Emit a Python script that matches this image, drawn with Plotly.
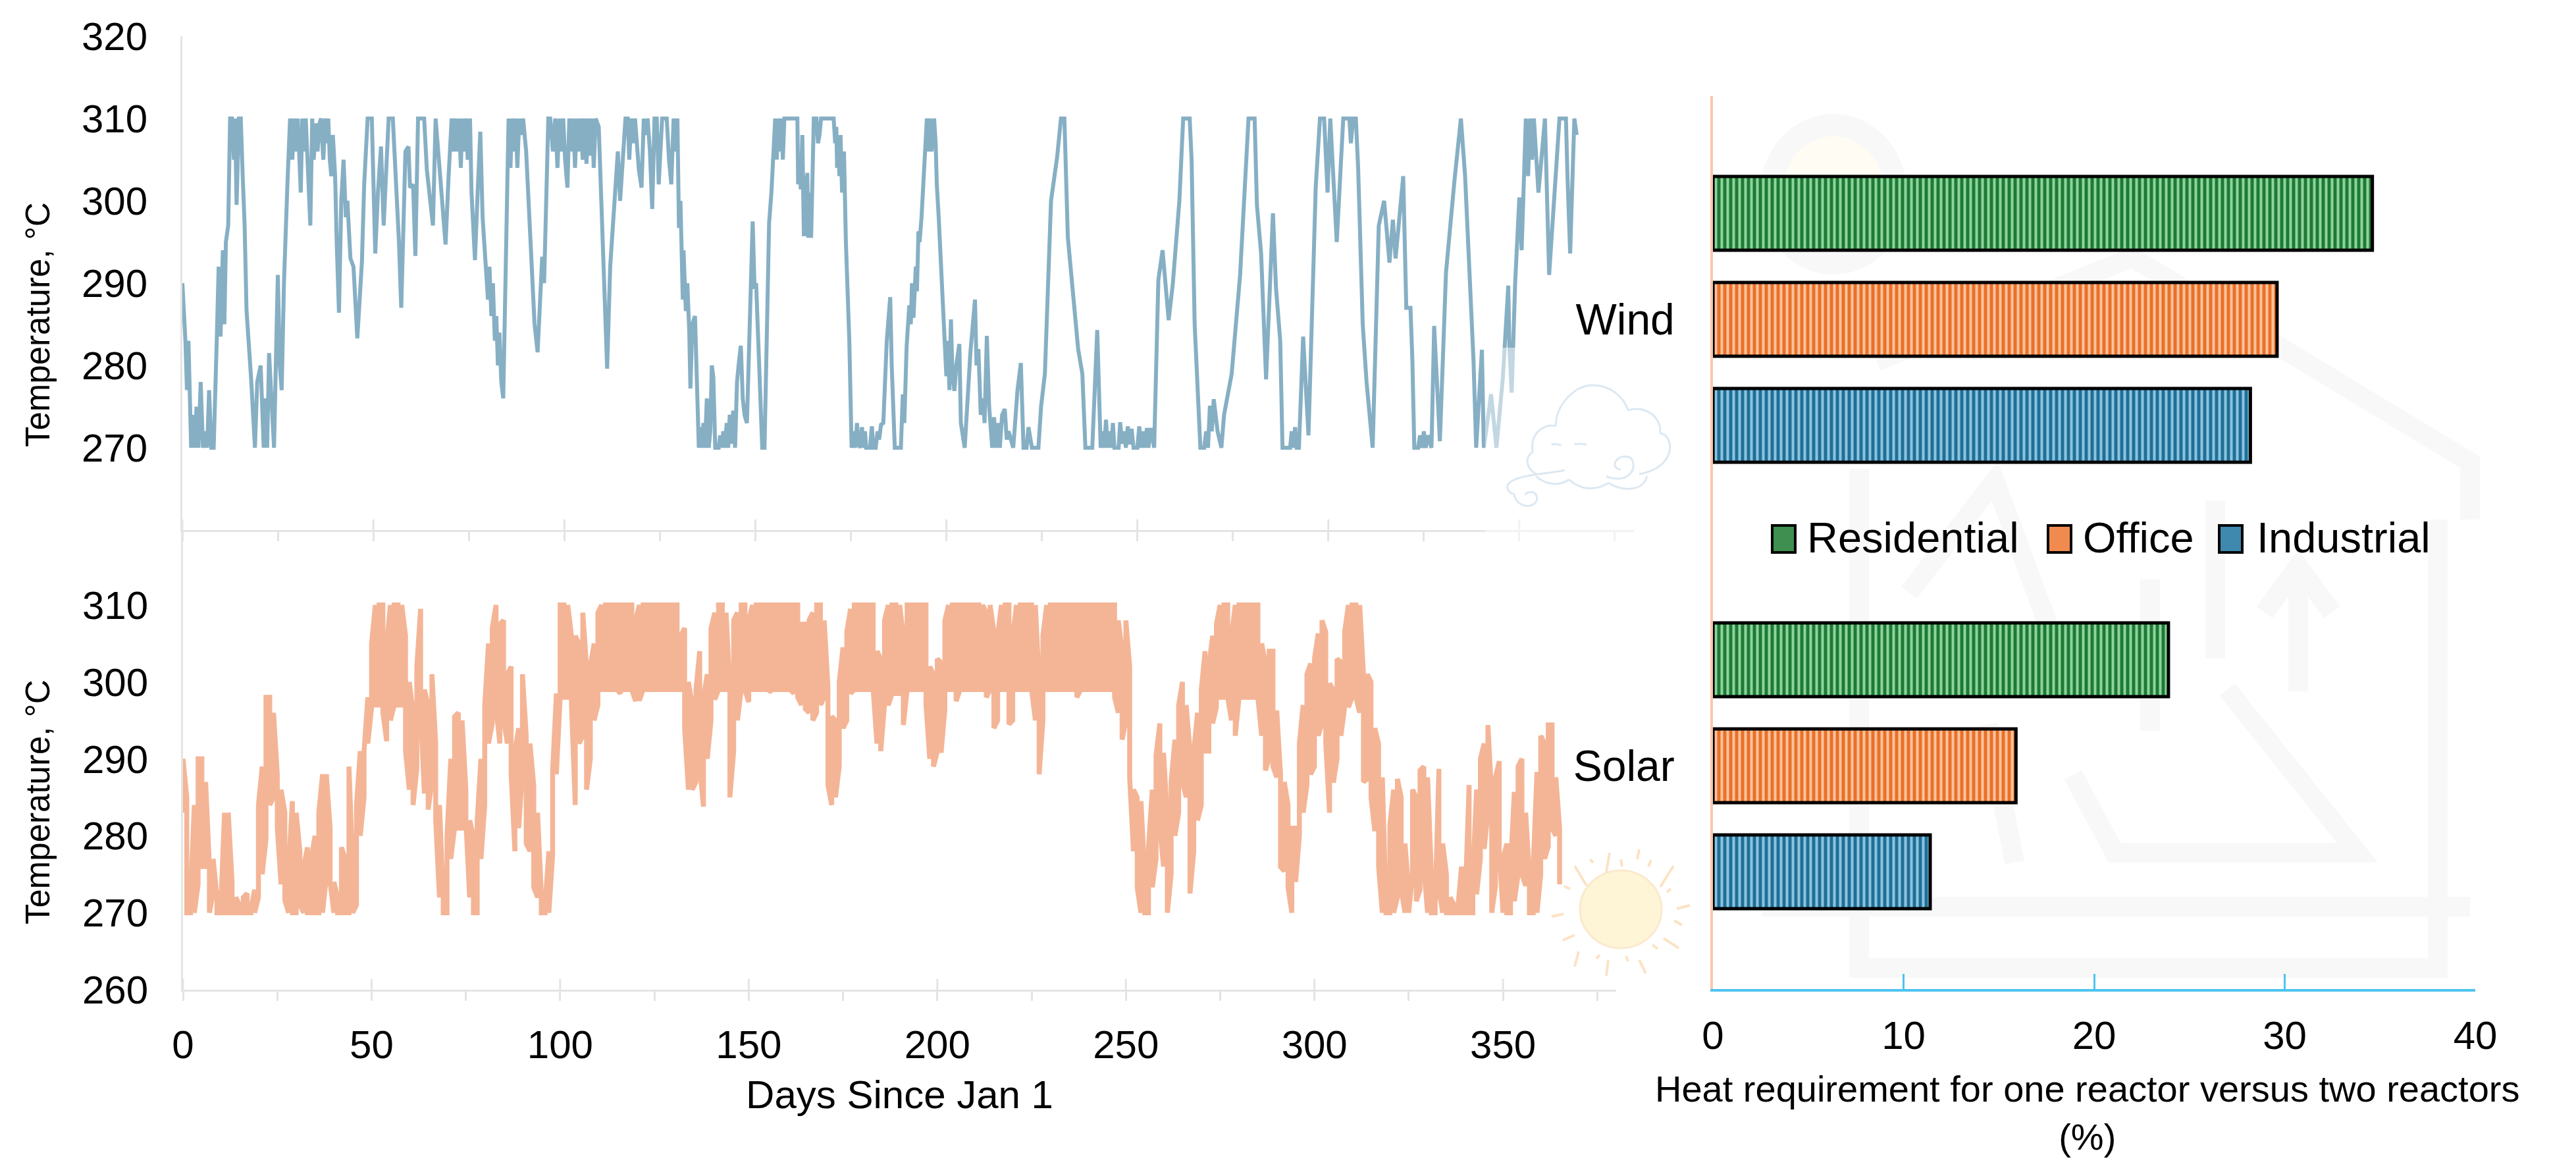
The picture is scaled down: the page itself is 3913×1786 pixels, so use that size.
import plotly.graph_objects as go

W = 3913
H = 1786

# wind temperature trace (turning points)
wind_days = [
    0, 0.8, 1.2, 1.6, 2.3, 3, 3.3, 3.7, 4.2, 4.8, 5.4, 6,
    6.5, 7, 7.6, 8.2, 9, 9.5, 10, 10.6, 11, 11.4, 12, 12.5,
    13, 13.5, 13.8, 14.2, 14.8, 15.3, 15.8, 16.3, 16.8, 17.5, 18, 19,
    19.6, 20.5, 21.3, 21.7, 22.2, 22.7, 23.4, 24, 24.6, 25, 25.5, 26,
    26.6, 27, 27.5, 28.2, 28.8, 29.2, 29.7, 30.2, 30.6, 31, 31.4, 31.9,
    32.3, 32.8, 33.5, 34, 34.4, 34.9, 35.4, 35.9, 36.3, 36.9, 37.4, 37.8,
    38.2, 38.6, 39, 39.4, 40, 40.4, 41, 41.6, 42.2, 42.8, 43.2, 44,
    44.8, 45.8, 46.3, 47, 47.6, 48.5, 49.6, 50.5, 51.2, 52, 52.7, 53.3,
    54, 55.1, 56, 56.7, 57.3, 57.9, 58.4, 59.2, 59.6, 60.4, 61, 61.7,
    63.3, 64, 65, 65.6, 66.3, 67, 67.8, 68.9, 69.7, 70.5, 71, 71.5,
    72, 72.4, 72.9, 73.3, 73.7, 74.2, 74.7, 75.3, 75.7, 76.6, 77.3, 78,
    78.6, 79.4, 80, 80.4, 80.9, 81.3, 81.8, 82.2, 82.6, 83, 83.5, 84,
    84.6, 85.4, 85.9, 86.3, 86.8, 87.2, 87.7, 88.2, 88.7, 89.2, 90, 90.6,
    91.4, 92.2, 93, 93.6, 94.2, 94.7, 95.2, 95.8, 96.3, 97, 97.6, 98.2,
    98.7, 99.2, 99.7, 100.2, 100.8, 101.3, 101.8, 102.3, 102.8, 103.3, 103.8, 104.3,
    104.8, 105.3, 105.8, 106.2, 106.7, 107.2, 107.7, 108.2, 109, 109.6, 110.4, 111.2,
    112, 113, 114, 114.6, 115.3, 116, 116.6, 117, 117.5, 118, 118.5, 119.5,
    120.2, 120.8, 121.3, 121.8, 122.4, 123, 123.6, 124.2, 124.7, 125.6, 126.2, 126.8,
    127.4, 128, 128.6, 129, 129.6, 130, 130.4, 130.6, 131, 131.2, 131.8, 132.2,
    132.7, 133, 133.5, 134.2, 134.5, 135.2, 135.7, 136, 136.4, 136.8, 137.3, 137.8,
    138.2, 138.6, 139, 139.5, 140.4, 140.8, 141.2, 141.6, 142, 142.5, 142.9, 143.3,
    143.7, 144.2, 144.7, 145.2, 145.6, 146.2, 146.7, 147.2, 147.8, 148.4, 149.3, 149.8,
    150.2, 151, 151.8, 152.4, 153, 153.6, 154.2, 155.2, 155.6, 156, 156.4, 156.8,
    157.2, 157.6, 158.5, 160, 161, 161.2, 161.5, 161.9, 162.3, 162.7, 163, 163.3,
    163.6, 163.9, 164.2, 164.6, 165, 165.3, 166, 166.4, 166.8, 167.2, 169, 170.5,
    170.9, 171.2, 171.4, 171.7, 172, 172.3, 172.7, 173.2, 173.7, 174.6, 175.2, 175.8,
    176.2, 176.6, 177, 177.5, 177.9, 178.3, 178.7, 179, 180, 180.5, 180.9, 181.5,
    182, 182.4, 182.9, 183.5, 184.4, 185.3, 185.7, 186.5, 188.1, 188.6, 189, 189.6,
    190.3, 190.7, 191, 191.4, 192, 192.3, 192.7, 193, 193.5, 194.2, 194.9, 195.3,
    195.7, 196.1, 196.8, 197.2, 197.5, 198, 198.4, 199, 199.4, 200, 200.4, 200.8,
    201.2, 201.6, 202.1, 202.6, 203.4, 203.8, 204.8, 205.4, 206.3, 207.5, 207.9, 208.4,
    209, 209.6, 210, 210.6, 211.2, 212, 212.5, 212.9, 213.5, 214, 214.6, 215.3,
    215.8, 216.3, 217.5, 218, 218.6, 219.5, 220.2, 221, 221.5, 222.4, 224.1, 224.8,
    225.8, 227.4, 229, 230, 230.9, 231.8, 233.5, 234.5, 235.6, 236.4, 238.2, 239.5,
    240.4, 241, 241.3, 241.8, 242.2, 242.7, 243.2, 243.6, 244, 245.1, 245.5, 246,
    246.5, 247, 247.5, 248, 248.5, 249, 250, 250.5, 251, 251.5, 252, 252.5,
    252.9, 253.5, 254.4, 255.5, 256.6, 258.2, 259.3, 259.9, 261, 262, 263.7, 264.2,
    265, 266.5, 267.5, 268, 268.5, 269, 269.5, 270, 271, 272, 272.7, 274.7,
    276.9, 279.1, 280.7, 281.3, 282.4, 283.7, 284.6, 285.5, 286.3, 287.4, 288, 290,
    290.4, 290.8, 291.3, 291.7, 292.3, 293.4, 294.8, 296.7, 297.8, 298.9, 299.8, 300.5,
    302.2, 303.9, 305.5, 305.9, 306.5, 307.2, 307.8, 309, 310, 311.6, 313.2, 314.6,
    316, 316.9, 317.6, 318.7, 319.6, 320.4, 321.5, 322, 322.5, 323.5, 324, 324.5,
    325, 325.5, 326, 327, 327.7, 329.2, 330.8, 333, 334.7, 335.8, 337.4, 338,
    338.7, 340.2, 340.7, 342.6, 344, 345.7, 347.1, 347.4, 348, 348.9, 350, 350.6,
    351.7, 352.3, 352.8, 353.3, 353.8, 355, 356.7, 357.8, 360.5, 362.2, 362.6, 363.3,
    364.4, 365,
]
wind_temp = [
    290, 283, 277, 283, 270, 274, 270, 275, 270, 278, 270, 272,
    270, 277, 270, 270, 283, 292, 283.5, 294, 285, 295, 297, 310,
    310, 305, 310, 299.5, 310, 310, 303, 297, 286.7, 282.4, 278.4, 270,
    278, 280, 270, 276, 270, 281.5, 275, 270, 283, 291, 280, 277,
    290, 297, 302, 310, 305, 310, 306, 310, 305, 301, 310, 306,
    310, 305, 297, 310, 305, 309.4, 306, 309.4, 310, 305, 310, 307,
    310, 305, 303, 308, 303, 295, 286.4, 300, 305, 298, 300, 293,
    292, 283.3, 287, 292.5, 302, 310, 310, 293.6, 301, 306.6, 297, 304,
    310, 310, 302, 295, 287, 300, 306, 306.6, 301.6, 302, 293.3, 310,
    310, 303.8, 300, 297, 310, 306, 300, 294.7, 303, 310, 306, 310,
    306, 310, 304, 310, 306, 310, 305, 310, 301, 292.8, 301, 308.4,
    298, 291, 288, 292, 286, 290, 283, 286, 280, 284, 278, 276,
    290, 310, 304, 310, 306, 310, 304, 310, 308, 310, 306, 300,
    292, 285, 281.6, 288, 293.2, 290, 300, 310, 310, 306, 310, 304,
    310, 306, 310, 305, 301.6, 310, 306, 310, 304, 310, 306, 310,
    305, 310, 304.5, 310, 305.5, 310, 304, 310, 309, 300, 290, 279.6,
    292, 300, 306, 300, 305, 310, 310, 305, 310, 307, 310, 303.8,
    301.6, 310, 308, 310, 306, 299, 310, 310, 302, 310, 310, 310,
    305, 302, 310, 306, 310, 296.7, 300, 293.3, 288, 294, 286.6, 290,
    284, 277.2, 285, 286, 281, 270, 272.5, 270, 273, 270, 276, 270,
    272, 280, 278.6, 270, 270, 271.5, 270, 272, 270, 273, 270, 274,
    270.5, 274.5, 270, 278, 280, 282.4, 276, 273.9, 273, 282, 297.5, 289.3,
    290, 280, 270, 270, 286, 297.3, 301, 310, 305, 310, 306, 310,
    305, 310, 310, 310, 310, 302, 305, 301.4, 308, 295.7, 303, 295.7,
    303.4, 295.5, 301, 295.5, 302, 310, 310, 307, 308, 310, 310, 310,
    307, 309, 304, 307, 303, 308, 301, 306, 295, 283, 270, 272,
    270, 273, 270.5, 270, 272.5, 270, 272, 270, 270, 272.6, 270, 270,
    272, 271, 272.8, 273, 283, 288.3, 280, 270, 270, 276.5, 273, 282.3,
    287.3, 285, 290, 285.8, 292, 289, 296.3, 295, 298, 304, 310, 306,
    310, 306, 310, 307, 302, 298, 294, 290, 286, 278.7, 283, 277,
    285.6, 279, 276.9, 280, 282.6, 273, 270, 275, 281.6, 288, 280, 282,
    274, 276, 273, 283.6, 275, 270, 273.7, 270, 273, 270, 274, 274.7,
    271, 272, 270, 273, 276.9, 280.3, 270, 270, 272.5, 270, 270, 275,
    279, 300, 305.3, 310, 310, 295.6, 287, 282, 279, 270, 270, 284.3,
    270, 272, 270, 273.4, 270, 272, 270, 273, 270, 270, 273.1, 270.5,
    272, 270, 272.6, 270.4, 272.3, 270, 270, 272.6, 270, 272, 270, 272.4,
    270, 272.4, 270, 290.4, 294, 285.5, 290, 294, 300, 310, 310, 305,
    285, 270, 270, 272, 270, 275.1, 272, 275.9, 272, 270, 274, 279,
    291, 310, 310, 299.5, 293.6, 278.3, 290, 298.5, 289.4, 283, 270, 270,
    272, 270, 272.5, 270, 270, 283.5, 271.5, 301.7, 310, 310, 301, 310,
    295, 310, 310, 307, 310, 310, 304, 285, 278, 270, 297, 300,
    292.5, 297.7, 293, 298.2, 303, 287, 287, 280.6, 270, 270, 271.5, 270,
    272, 270, 271.5, 270, 284.8, 270.8, 291.3, 302.4, 310, 303, 288.4, 280.6,
    270, 281.9, 270, 276.5, 270, 278.6, 289.7, 282.2, 276.7, 290, 300.4, 294,
    310, 303, 310, 305, 310, 301, 310, 291, 310, 310, 303, 293.6,
    310, 308,
]

# solar panel: daily max and min of the temperature, day 0 to day 365
solar_hi = [
    290, 285, 272, 284, 290, 290, 287, 276, 277, 272,
    270.5, 283, 283, 274, 272, 271, 272, 272.5, 270.5, 273,
    284, 289, 298, 298, 296, 288, 286, 283, 276, 284.5,
    283, 278, 276, 278.5, 277, 280, 283, 288, 288, 281,
    274, 272, 278.5, 277, 289, 276, 284, 291, 291, 298,
    305, 310, 310, 310, 305, 310, 310, 310, 310, 306,
    300, 296, 302, 309.5, 299, 297, 301, 292, 284, 272,
    280, 290, 295.5, 296, 295, 286, 282, 280, 282, 290,
    297, 305, 307, 310, 307.5, 308, 301, 302, 291, 294,
    301, 293, 292, 286.5, 283, 272.5, 271, 278, 288.5, 298.5,
    310, 310, 310, 306, 306, 305, 309, 302, 302, 305,
    309, 310, 310, 310, 310, 310, 310, 310, 310, 310,
    308, 310, 310, 310, 310, 310, 310, 310, 310, 310,
    310, 310, 306, 307, 300, 297, 299, 304, 298, 301,
    307, 309, 310, 310, 309, 299, 308, 309, 310, 310,
    308, 310, 310, 310, 310, 310, 310, 310, 310, 310,
    310, 310, 310, 310, 307.5, 307.5, 308, 309, 310, 310,
    308, 299.5, 295.5, 295, 300, 304.5, 306.5, 309.5, 310, 310,
    310, 310, 310, 310, 304, 303, 308, 310, 310, 310,
    310, 306, 310, 310, 310, 310, 310, 310, 302, 301,
    303, 302.5, 308, 310, 310, 310, 310, 310, 310, 310,
    310, 310, 310, 309, 310, 306.5, 306, 310, 310, 310,
    306, 310, 310, 310, 310, 310, 310, 300, 306, 310,
    310, 310, 310, 310, 310, 310, 310, 310, 310, 310,
    310, 310, 310, 310, 310, 310, 310, 310, 308, 304,
    308, 302, 286, 285, 284.5, 275, 278.5, 286, 290.5, 294.6,
    290.8, 282, 287, 292.5, 297, 300, 297, 291, 291, 296,
    299, 304, 302, 306, 307.5, 310, 310, 310, 306, 310,
    310, 310, 310, 310, 310, 310, 305, 302.4, 304, 304,
    296.3, 288, 287, 284, 281, 281, 292, 297, 301, 302.4,
    303, 306.3, 308, 306.5, 299.8, 299, 303, 302.6, 306.5, 310,
    310, 310, 310, 301, 301, 300, 294, 292, 287.6, 270.5,
    281.4, 286, 287.4, 285, 279, 273, 286, 285, 288.5, 289,
    287.6, 275, 271, 288.7, 279, 275, 272, 271, 270.5, 276,
    272, 286.6, 275, 286, 290, 292, 294.4, 285, 287.6, 289.7,
    277, 279, 276, 285.7, 289, 290, 283, 275, 276, 288.3,
    293, 292, 294.4, 294.4, 287.6, 281,
]
solar_lo = [
    283, 270, 270, 270, 273.7, 276, 276, 270, 272.6, 270,
    270, 270, 270, 270, 270, 270, 270, 270, 270, 270,
    272, 275, 279.6, 284, 285, 281, 273.7, 271.6, 270, 270,
    270, 271, 270, 270, 270, 270, 270, 270, 274.6, 274,
    270, 270, 270, 270, 270, 270, 271, 280, 285, 292,
    296.7, 297, 297, 296, 292.3, 295, 297, 297, 297, 291,
    286, 284, 288.7, 296, 285.5, 283.4, 287, 282, 272, 270,
    270, 277, 281, 281, 281, 282, 272, 270, 270, 277,
    284, 292, 294.6, 296.7, 292, 295, 292, 288, 278, 281,
    288.3, 279, 278, 273.3, 272, 270, 270, 270, 277.5, 288,
    298, 298, 298, 297, 284, 292, 293, 286, 290, 295,
    297, 299, 299, 299, 299, 299, 298.5, 299, 299, 299,
    297.5, 297.6, 299, 299, 299, 299, 299, 299, 299, 299,
    299, 299, 299, 294, 286, 286, 287, 289, 283.8, 290,
    295, 297.7, 299, 299, 299, 285, 291, 295, 299, 299,
    297.4, 299, 299, 299, 299, 299, 298.7, 299, 299, 299,
    299, 299, 298.5, 298, 297, 296.5, 296, 295, 296, 297,
    298, 286.6, 284, 285, 289, 294, 295, 298.5, 299, 299,
    299, 299, 299, 299, 292, 291, 297, 297, 298.5, 298.5,
    298.5, 294.4, 299, 299, 299, 299, 299, 297, 290, 289,
    291, 290.8, 296.4, 299, 299, 297.5, 299, 299, 299, 299,
    299, 299, 299, 298, 299, 294, 295, 299, 299, 294.5,
    295, 299, 299, 299, 299, 299, 295, 288, 295, 299,
    299, 299, 299, 299, 299, 299, 299, 298, 299, 299,
    299, 299, 299, 299, 299, 299, 299, 298, 296, 292.5,
    295, 287.6, 278, 273.3, 270, 270, 270, 273.3, 277, 281,
    276, 270, 275, 280, 283, 287, 285, 272.5, 278, 282,
    284, 291, 291, 294.6, 296.7, 298, 298, 298, 295, 293,
    298, 298, 298, 298, 298, 298, 293, 288.5, 290.1, 289,
    287.6, 276, 275.4, 273.3, 270, 274, 280, 283, 286.6, 288,
    289, 293, 294.6, 292, 283, 286.9, 290, 293, 296.7, 296.7,
    298, 298, 296, 287, 287.4, 285, 280.6, 276, 270, 270,
    270, 270, 272, 273, 270, 270, 275, 271.5, 273, 276,
    270, 270, 270, 273, 270, 270, 270, 270, 270, 270,
    270, 270, 270, 272.4, 277, 278.3, 283, 270, 273.5, 278,
    270, 270, 270, 271.5, 275, 275, 273.5, 270, 270, 270,
    275, 277, 278.6, 281, 280, 273.7,
]

# heat requirement bars
sources = ["Solar", "Wind"]
industrial = [11.4, 28.2]
office = [15.9, 29.6]
residential = [23.9, 34.6]

wind_color = "#86AFC4"
solar_color = "#F4B596"
axis_grey = "#e4e4e4"
font_main = "Liberation Sans"


def px(x):
    return x / W


def py(y):
    return 1 - y / H


def pt(p):
    return f"{px(p[0]):.5f},{py(p[1]):.5f}"


def line_path(pts):
    # plotly wants its own letter in front of every point when refs are paper
    return "M" + pt(pts[0]) + "".join(" L" + pt(p) for p in pts[1:])


def curve_path(pts):
    out = "M" + pt(pts[0])
    for i in range(1, len(pts) - 2, 3):
        out += " C" + pt(pts[i]) + " " + pt(pts[i + 1]) + " " + pt(pts[i + 2])
    return out


# solar is drawn as a snake up and down through each day's range
solar_x = []
solar_y = []
for i in range(len(solar_hi)):
    solar_x += [i, i]
    if i % 2 == 0:
        solar_y += [solar_lo[i], solar_hi[i]]
    else:
        solar_y += [solar_hi[i], solar_lo[i]]

fig = go.Figure()
fig.add_trace(go.Scatter(x=wind_days, y=wind_temp, mode="lines", name="Wind",
                         line=dict(color=wind_color, width=6), xaxis="x", yaxis="y",
                         showlegend=False))
fig.add_trace(go.Scatter(x=solar_x, y=solar_y, mode="lines", name="Solar",
                         line=dict(color=solar_color, width=7.5), xaxis="x2", yaxis="y2",
                         showlegend=False))


def stripes(dark, light):
    return dict(color=dark, line=dict(color="black", width=5),
                pattern=dict(shape="|", bgcolor=dark, fgcolor=light, size=9, solidity=0.45,
                             fillmode="replace"))


fig.add_trace(go.Bar(y=sources, x=industrial, name="Industrial", orientation="h",
                     marker=stripes("#1f6f98", "#8cc3dd"), xaxis="x3", yaxis="y3", showlegend=False))
fig.add_trace(go.Bar(y=sources, x=office, name="Office", orientation="h",
                     marker=stripes("#ea7028", "#fbc39c"), xaxis="x3", yaxis="y3", showlegend=False))
fig.add_trace(go.Bar(y=sources, x=residential, name="Residential", orientation="h",
                     marker=stripes("#1d7a35", "#8ed39c"), xaxis="x3", yaxis="y3", showlegend=False))

shapes = []

# faint house watermark behind the bars
wm = "#f8f8f8"
watermark = [
    [(2851, 549), (3239, 391), (3752, 702), (3752, 789)],
    [(3703, 789), (3703, 1470), (2824, 1470), (2824, 712)],
    [(2676, 1377), (3752, 1377)],
    [(3149, 1177), (3212, 1295), (3581, 1295), (3383, 1047)],
    [(3266, 880), (3266, 1110)],
    [(3365, 760), (3365, 1000)],
    [(3491, 1050), (3491, 880)],
    [(3440, 930), (3491, 860), (3542, 930)],
    [(2900, 900), (3030, 730), (3130, 1000)],
    [(3020, 1100), (3060, 1310)],
]
for line_pts in watermark:
    shapes.append(dict(type="path", path=line_path(line_pts), xref="paper", yref="paper",
                       layer="below", line=dict(color=wm, width=30)))
shapes.append(dict(type="circle", xref="paper", yref="paper", layer="below",
                   x0=px(2690), x1=px(2880), y0=py(190), y1=py(400),
                   fillcolor="#fffdf3", line=dict(color=wm, width=34)))

# major ticks cross the axis line, plotly only draws them on one side
for d in range(0, 400, 50):
    shapes.append(dict(type="line", xref="x", yref="y", x0=d, x1=d, y0=260, y1=261.3,
                       line=dict(color=axis_grey, width=3)))
    shapes.append(dict(type="line", xref="x2", yref="y2", x0=d, x1=d, y0=260, y1=261.4,
                       line=dict(color=axis_grey, width=3)))

# the cloud picture sits on a half transparent box over the chart
shapes.append(dict(type="rect", xref="paper", yref="paper", layer="above",
                   x0=px(2256), x1=px(2596), y0=py(528), y1=py(830),
                   fillcolor="rgba(255,255,255,0.5)", line=dict(width=0)))


def cloud(zx, zy):
    return (2200 + zx / 3, 560 + zy / 3)


cloud_curves = [
    [(490, 260), (490, 170), (570, 75), (660, 75), (740, 75), (800, 130), (820, 190)],
    [(820, 190), (880, 165), (975, 210), (965, 295)],
    [(965, 295), (1030, 300), (1045, 450), (870, 480)],
    [(905, 490), (890, 560), (790, 560), (730, 520)],
    [(730, 520), (670, 560), (600, 550), (550, 505)],
    [(550, 505), (500, 540), (440, 525), (400, 490)],
    [(400, 480), (350, 450), (350, 400), (385, 380)],
    [(385, 380), (370, 300), (430, 250), (490, 260)],
    [(530, 462), (460, 480), (300, 480), (270, 530), (265, 560), (290, 570), (300, 570)],
    [(300, 570), (310, 640), (400, 640), (405, 590), (400, 550), (355, 560), (350, 575)],
    [(720, 490), (820, 530), (870, 450), (830, 405), (770, 380), (730, 450), (785, 460)],
    [(470, 345), (490, 340), (500, 345), (515, 348)],
    [(575, 345), (595, 338), (610, 342), (630, 346)],
]
for curve in cloud_curves:
    shapes.append(dict(type="path", path=curve_path([cloud(a, b) for a, b in curve]),
                       xref="paper", yref="paper", layer="above",
                       line=dict(color="#dce8f2", width=3)))

# sun next to the solar panel
shapes.append(dict(type="circle", xref="paper", yref="paper", layer="above",
                   x0=px(2400), x1=px(2524), y0=py(1322), y1=py(1440),
                   fillcolor="#fdf5d6", line=dict(color="#fbe9ce", width=3)))
sun_rays = [
    (2445, 1295, 2440, 1325), (2490, 1290, 2487, 1305),
    (2392, 1315, 2410, 1345), (2542, 1315, 2522, 1347), (2538, 1350, 2532, 1355),
    (2567, 1375, 2547, 1380), (2555, 1405, 2543, 1398), (2550, 1440, 2527, 1425),
    (2375, 1388, 2357, 1392), (2392, 1420, 2374, 1428), (2398, 1445, 2392, 1468),
    (2443, 1458, 2440, 1482), (2490, 1458, 2500, 1478), (2415, 1305, 2420, 1310),
    (2462, 1305, 2464, 1316), (2508, 1306, 2504, 1316), (2385, 1350, 2376, 1346),
    (2430, 1450, 2425, 1456), (2470, 1452, 2473, 1460), (2510, 1435, 2518, 1441),
]
for x0, y0, x1, y1 in sun_rays:
    shapes.append(dict(type="line", xref="paper", yref="paper", layer="above",
                       x0=px(x0), x1=px(x1), y0=py(y0), y1=py(y1),
                       line=dict(color="#fbe3c4", width=4)))

title_font = dict(family=font_main, size=51, color="black")
annotations = []

# the y titles and the bar title sit off the middle of their axes, so they are annotations
temp_title_y = [493, 1218]
for y in temp_title_y:
    annotations.append(dict(text="Temperature, °C", xref="paper", yref="paper", x=px(57), y=py(y),
                            textangle=-90, xanchor="center", yanchor="middle", showarrow=False,
                            font=title_font))
annotations.append(dict(text="Heat requirement for one reactor versus two reactors<br>(%)",
                        xref="paper", yref="paper", x=px(3170), y=py(1690), align="center",
                        xanchor="center", yanchor="middle", showarrow=False,
                        font=dict(family=font_main, size=56, color="black")))

# legend, drawn by hand because plotly cannot size the swatches like this
legend_names = ["Residential", "Office", "Industrial"]
legend_fill = ["#3f8f50", "#f08a4f", "#3f88ae"]
legend_swatch_left = [2692, 3111, 3371]
legend_text_left = [2743, 3162, 3426]
for name, fill, sx, tx in zip(legend_names, legend_fill, legend_swatch_left, legend_text_left):
    shapes.append(dict(type="rect", xref="paper", yref="paper",
                       x0=px(sx), x1=px(sx + 35), y0=py(798), y1=py(839),
                       fillcolor=fill, line=dict(color="black", width=4)))
    annotations.append(dict(text=name, xref="paper", yref="paper", x=px(tx), y=py(817),
                            xanchor="left", yanchor="middle", showarrow=False,
                            font=dict(family=font_main, size=65, color="black")))

tick_font = dict(family=font_main, size=60, color="black")

fig.update_layout(
    width=W,
    height=H,
    margin=dict(l=0, r=0, t=0, b=0, autoexpand=False),
    paper_bgcolor="white",
    plot_bgcolor="rgba(0,0,0,0)",
    font=dict(family=font_main, color="black"),
    barmode="group",
    bargap=0.2876,
    bargroupgap=0.304,
    shapes=shapes,
    annotations=annotations,
    xaxis=dict(domain=[px(277), px(2482)], range=[0, 380], anchor="y", showgrid=False, zeroline=False,
               showline=True, linecolor=axis_grey, linewidth=3, showticklabels=False,
               ticks="outside", tickcolor=axis_grey, tickwidth=3, ticklen=14,
               tick0=0, dtick=25),
    yaxis=dict(domain=[py(805), py(55)], range=[260, 320], anchor="x", showgrid=False, zeroline=False,
               showline=True, linecolor=axis_grey, linewidth=3,
               tickvals=[270, 280, 290, 300, 310, 320], ticks="", ticklabelstandoff=38,
               tickfont=tick_font),
    xaxis2=dict(domain=[px(278), px(2455)], range=[0, 380], anchor="y2", showgrid=False, zeroline=False,
                showline=True, linecolor=axis_grey, linewidth=3,
                tickvals=[0, 50, 100, 150, 200, 250, 300, 350], ticktext=["0", "50", "100", "150", "200", "250", "300", "350"],
                ticks="outside", tickcolor=axis_grey, tickwidth=3, ticklen=14, ticklabelstandoff=15,
                minor=dict(ticks="outside", tickvals=[25, 75, 125, 175, 225, 275, 325, 375], ticklen=14,
                           tickcolor=axis_grey, tickwidth=3),
                tickfont=tick_font,
                title=dict(text="Days Since Jan 1", font=dict(family=font_main, size=60, color="black"), standoff=22)),
    yaxis2=dict(domain=[py(1503), py(802)], range=[260, 320], anchor="x2", showgrid=False, zeroline=False,
                showline=True, linecolor=axis_grey, linewidth=3,
                tickvals=[260, 270, 280, 290, 300, 310], ticks="", ticklabelstandoff=38,
                tickfont=tick_font),
    xaxis3=dict(domain=[px(2602), px(3760)], range=[0, 40], anchor="y3", showgrid=False, zeroline=False,
                showline=True, linecolor="#4fc3f0", linewidth=4, dtick=10, tick0=0,
                ticks="inside", tickcolor="#4fc3f0", tickwidth=3, ticklen=23, ticklabelstandoff=15,
                tickfont=tick_font),
    yaxis3=dict(domain=[py(1502), py(146)], anchor="x3", type="category", categoryorder="array",
                categoryarray=sources, showgrid=False, zeroline=False, showline=True,
                linecolor="rgba(244,130,70,0.45)", linewidth=4, ticks="", ticklabelstandoff=41,
                tickfont=dict(family=font_main, size=66, color="black")),
)

fig.write_html("out.html", config={"displayModeBar": False},
               post_script="document.body.style.margin='0';")
